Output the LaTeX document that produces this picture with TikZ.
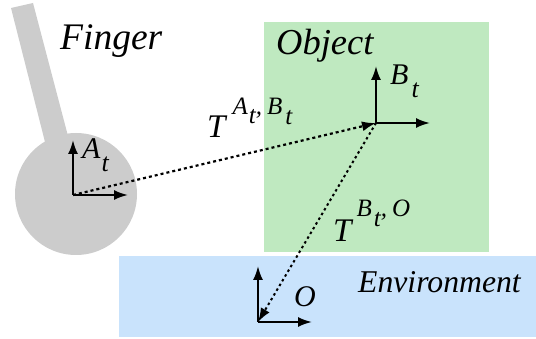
\documentclass[tikz,border=0pt]{standalone}
\usepackage{fontspec}
\setmainfont{Liberation Serif}
\usetikzlibrary{arrows.meta,calc,positioning}

\begin{document}
\begin{tikzpicture}[
    x=1pt, y=-1pt,
    txt/.style={inner sep=0pt, anchor=base west, font=\itshape},
    axis/.style={-{Latex[length=14pt,width=10pt]}, line width=2pt},
    frameline/.style={-{Latex[length=14pt,width=10pt]}, line width=2.2pt, dash pattern=on 3pt off 3pt},
  ]

  % ---- canvas
  \useasboundingbox (0,0) rectangle (536,339);

  % ---- colored regions
  \fill[fill={rgb,255:red,191;green,233;blue,192}] (264,22) rectangle (489,252);
  \fill[fill={rgb,255:red,201;green,227;blue,252}] (119,256) rectangle (536,337);

  % ---- finger
  \fill[gray!40] (11,8) -- (33,3) -- (68,136) -- (45,142) -- cycle;
  \fill[gray!40] (76,194) circle (61);

  % ---- frame origins and axis ends
  \coordinate (originA) at (73,195);
  \coordinate (originB) at (376,123);
  \coordinate (originO) at (258,322);
  \coordinate (upA) at (73,140);
  \coordinate (rightA) at (128,195);
  \coordinate (upB) at (376,66);
  \coordinate (rightB) at (430,123);
  \coordinate (upO) at (258,266);
  \coordinate (rightO) at (312,322);

  % ---- axes
  \draw[axis] (originA) -- (upA);
  \draw[axis] (originA) -- (rightA);
  \draw[axis] (originB) -- (upB);
  \draw[axis] (originB) -- (rightB);
  \draw[axis] (originO) -- (upO);
  \draw[axis] (originO) -- (rightO);

  % ---- transforms
  \draw[frameline] (originA) -- (originB);
  \draw[frameline, line width=2pt, dash pattern=on 2.5pt off 3pt] (originB) -- (originO);

  % ---- names
  \node[txt, font=\fontsize{37.5}{40}\selectfont\itshape] (finger) at (60,50) {Finger};
  \node[txt, font=\fontsize{36.5}{40}\selectfont\itshape] (object) at (276,55) {Object};
  \node[txt, font=\fontsize{31.7}{34}\selectfont\itshape] (environment) at (358,293) {Environment};

  % ---- frame labels
  \node[txt, font=\fontsize{30}{32}\selectfont\itshape] (labelA) at (82,159)
        {A\raisebox{-13pt}{\hspace{1pt}\fontsize{26}{28}\selectfont t}};
  \node[txt, font=\fontsize{30}{32}\selectfont\itshape] (labelB) at (390,85)
        {B\raisebox{-13pt}{\hspace{3pt}\fontsize{26}{28}\selectfont t}};
  \node[txt, font=\fontsize{30}{32}\selectfont\itshape] (labelO) at (294,307) {O};

  % ---- transform labels
  \node[txt, font=\fontsize{33}{35}\selectfont\itshape] (labelAB) at (207,138)
        {T\hspace{7pt}\raisebox{23pt}{\fontsize{25}{27}\selectfont A\raisebox{-9pt}{\hspace{1pt}t},\hspace{5pt}B\raisebox{-10pt}{\hspace{3pt}t}}};
  \node[txt, font=\fontsize{33}{35}\selectfont\itshape] (labelBO) at (333,242)
        {T\hspace{5pt}\raisebox{25pt}{\fontsize{25}{27}\selectfont B\raisebox{-10pt}{\hspace{2pt}t},\hspace{5pt}O}};

\end{tikzpicture}
\end{document}
